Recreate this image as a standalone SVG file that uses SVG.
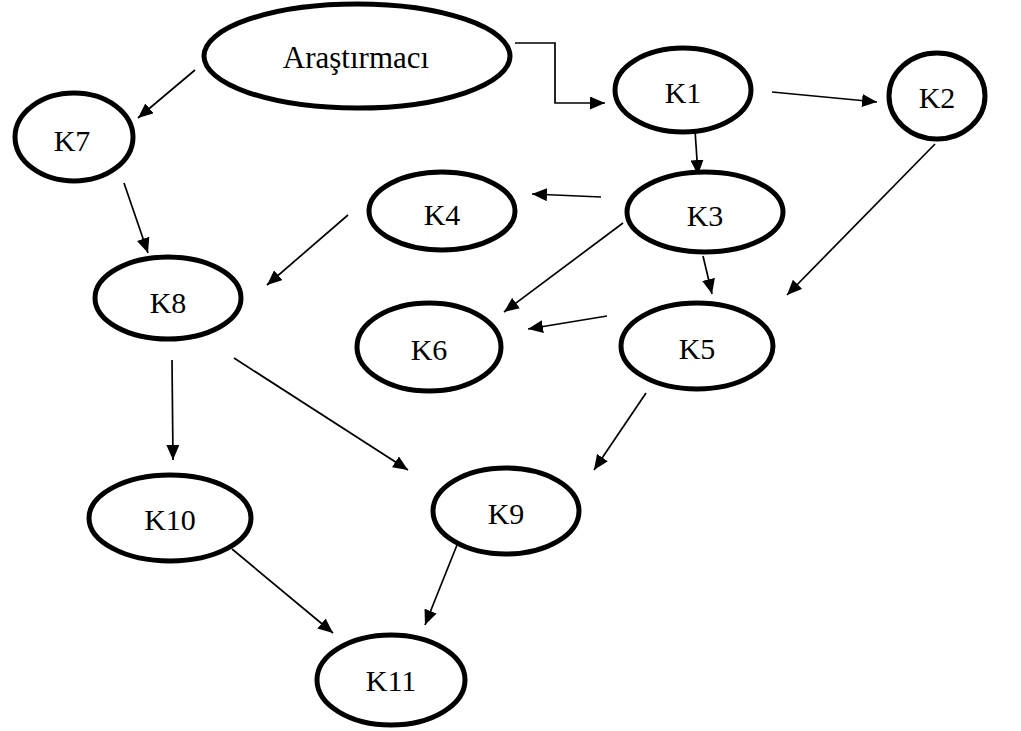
<svg xmlns="http://www.w3.org/2000/svg" width="1021" height="731" viewBox="0 0 1021 731">
  <defs>
    <marker id="arr" viewBox="0 0 15 13" refX="15" refY="6.5" markerWidth="15" markerHeight="13" markerUnits="userSpaceOnUse" orient="auto">
      <path d="M0,0 L15,6.5 L0,13 z" fill="#000"/>
    </marker>
    <style>
      .node ellipse { fill: #fff; stroke: #000; stroke-width: 5; }
      .node text { font-family: 'Liberation Serif', 'Times New Roman', serif; font-size: 30px; fill: #000; text-anchor: middle; }
      .node text.big { font-size: 31px; }
      #connectors line, #connectors path { stroke: #000; stroke-width: 1.7; fill: none; marker-end: url(#arr); }
    </style>
  </defs>
  <rect width="1021" height="731" fill="#fff"/>

  <g id="connectors">
    <path d="M515,43 H555 V103 H605"/>
    <line x1="195" y1="70" x2="138" y2="118"/>
    <line x1="772" y1="92" x2="877" y2="102"/>
    <line x1="694" y1="115" x2="698" y2="175"/>
    <line x1="601" y1="197" x2="532" y2="194"/>
    <line x1="623" y1="223" x2="504" y2="312"/>
    <line x1="703" y1="256" x2="712" y2="294"/>
    <line x1="935" y1="144" x2="787" y2="295"/>
    <line x1="607" y1="316" x2="528" y2="329"/>
    <line x1="124" y1="183" x2="148" y2="253"/>
    <line x1="348" y1="215" x2="267" y2="285"/>
    <line x1="172" y1="360" x2="173" y2="460"/>
    <line x1="234" y1="358" x2="408" y2="470"/>
    <line x1="646" y1="393" x2="594" y2="470"/>
    <line x1="232" y1="549" x2="333" y2="633"/>
    <line x1="457" y1="545" x2="425" y2="625"/>
  </g>

  <g id="arastirmaci" class="node">
    <ellipse cx="357" cy="56" rx="153" ry="52"/>
    <text class="big" x="356" y="68">Araştırmacı</text>
  </g>
  <g id="K1" class="node">
    <ellipse cx="683" cy="90" rx="68" ry="42"/>
    <text x="683" y="103">K1</text>
  </g>
  <g id="K2" class="node">
    <ellipse cx="937" cy="96" rx="48" ry="43"/>
    <text x="937" y="108">K2</text>
  </g>
  <g id="K3" class="node">
    <ellipse cx="705" cy="212" rx="78" ry="40"/>
    <text x="705" y="226">K3</text>
  </g>
  <g id="K4" class="node">
    <ellipse cx="442" cy="211" rx="73" ry="39"/>
    <text x="442" y="225">K4</text>
  </g>
  <g id="K5" class="node">
    <ellipse cx="697" cy="346" rx="76" ry="43"/>
    <text x="697" y="359">K5</text>
  </g>
  <g id="K6" class="node">
    <ellipse cx="429" cy="347" rx="72" ry="44"/>
    <text x="429" y="360">K6</text>
  </g>
  <g id="K7" class="node">
    <ellipse cx="74" cy="137" rx="59" ry="44"/>
    <text x="72" y="151">K7</text>
  </g>
  <g id="K8" class="node">
    <ellipse cx="168" cy="298" rx="73" ry="41"/>
    <text x="168" y="313">K8</text>
  </g>
  <g id="K9" class="node">
    <ellipse cx="506" cy="511" rx="73" ry="43"/>
    <text x="506" y="524">K9</text>
  </g>
  <g id="K10" class="node">
    <ellipse cx="170" cy="518" rx="81" ry="43"/>
    <text x="170" y="530">K10</text>
  </g>
  <g id="K11" class="node">
    <ellipse cx="391" cy="680" rx="74" ry="45"/>
    <text x="391" y="691">K11</text>
  </g>
</svg>
